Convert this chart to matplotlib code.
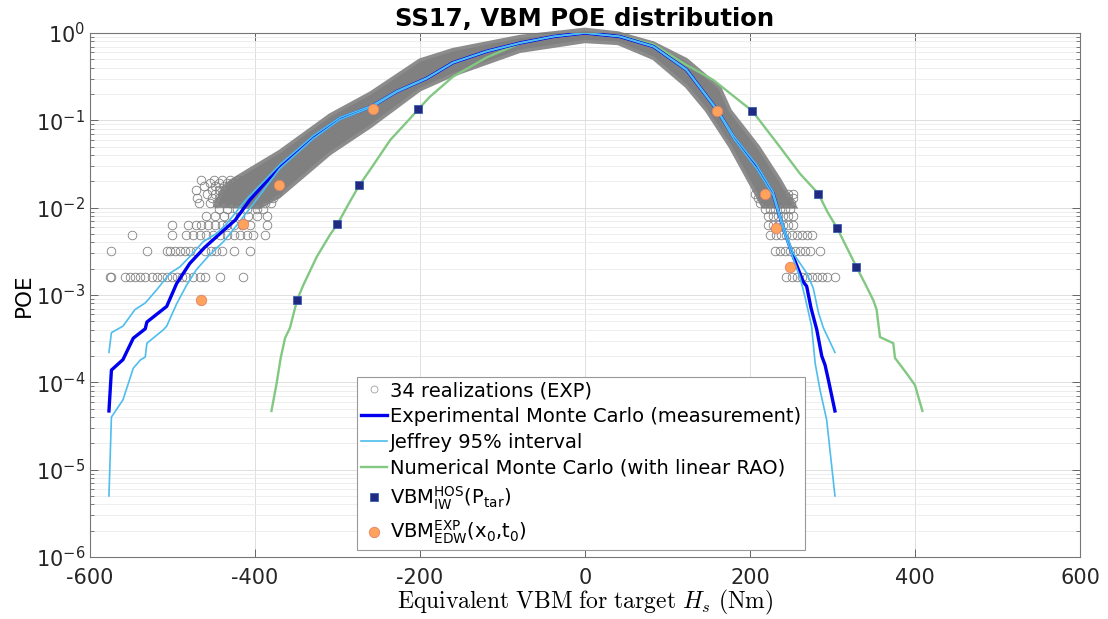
import matplotlib
matplotlib.use('Agg')
import matplotlib.pyplot as plt
from matplotlib.lines import Line2D
from matplotlib.ticker import LogLocator, LogFormatterMathtext, NullFormatter, FixedLocator

plt.rcParams['font.family'] = ['DejaVu Sans']
plt.rcParams['axes.unicode_minus'] = False
plt.rcParams['mathtext.fontset'] = 'dejavusans'

# ---------------- data ----------------
# Experimental Monte Carlo (measurement)
exp_x = [-577, -574, -560, -547.5, -533, -531, -507, -495, -479, -461, -438, -424, -406,
         -370, -329, -297, -258, -228, -192, -160, -119, -79, -38, 0, 42, 83, 123, 160,
         180, 208, 228, 240, 252.5, 264.6, 268.7, 274, 281, 287, 291, 295, 303]
exp_poe = [4.7e-5, 1.38e-4, 1.82e-4, 3.2e-4, 4.1e-4, 4.9e-4, 7.4e-4, 1.35e-3, 2.3e-3, 3.5e-3,
           5.5e-3, 7.2e-3, 0.0123, 0.0295, 0.0646, 0.105, 0.145, 0.214, 0.302, 0.457, 0.617,
           0.767, 0.912, 1.0, 0.912, 0.70, 0.38, 0.132, 0.0646, 0.0295, 0.0145, 0.0060,
           0.00275, 0.00141, 0.00126, 7.1e-4, 4.0e-4, 2.0e-4, 1.58e-4, 1.07e-4, 4.7e-5]

# Jeffrey 95% interval, upper bound
jef_hi_x = [-577, -574, -560, -545.5, -533, -519, -503, -491, -479, -462.6, -446, -434, -410,
            -370, -329, -297, -258, -228, -192, -160, -119, -79, -38, 0, 42, 83, 123, 160,
            180, 208, 228, 240, 252.5, 268.7, 276.7, 283, 289, 303]
jef_hi_poe = [2.2e-4, 3.7e-4, 4.4e-4, 6.8e-4, 8.1e-4, 1.15e-3, 1.78e-3, 2.1e-3, 2.75e-3, 4.1e-3,
              5.1e-3, 6.6e-3, 0.0126, 0.031, 0.067, 0.108, 0.148, 0.217, 0.305, 0.46, 0.62,
              0.77, 0.915, 1.0, 0.915, 0.705, 0.385, 0.135, 0.067, 0.031, 0.0152, 0.0064,
              0.0030, 1.78e-3, 1.2e-3, 6.3e-4, 4.2e-4, 2.2e-4]

# Jeffrey 95% interval, lower bound
jef_lo_x = [-577, -574, -560, -547.5, -539, -533, -531, -511, -507, -495, -483, -471, -457,
            -438, -422, -400, -370, -329, -297, -258, -228, -192, -160, -119, -79, -38, 0,
            42, 83, 123, 160, 180, 208, 228, 240, 252.5, 260.6, 266.7, 274.7, 279, 285,
            293, 303]
jef_lo_poe = [5.0e-6, 4.0e-5, 6.3e-5, 1.45e-4, 1.8e-4, 1.95e-4, 2.8e-4, 4.0e-4, 4.4e-4, 7.9e-4,
              1.29e-3, 1.95e-3, 2.75e-3, 4.1e-3, 6.3e-3, 0.0117, 0.028, 0.062, 0.102, 0.142,
              0.211, 0.299, 0.454, 0.614, 0.764, 0.91, 1.0, 0.91, 0.695, 0.375, 0.129, 0.062,
              0.028, 0.0138, 0.0057, 0.0026, 1.6e-3, 9.5e-4, 4.4e-4, 1.66e-4, 8.1e-5, 3.7e-5,
              5.0e-6]

# Numerical Monte Carlo (with linear RAO)
num_x = [-380, -373.7, -369, -363.6, -357.6, -349, -341.4, -325, -309, -300, -285, -273.6,
         -260.6, -236, -212, -202, -188, -160, -119, -79, -38, 0, 42, 83, 123, 155.5,
         175.8, 202.8, 236, 260.6, 282.8, 294, 305.8, 318, 329, 340, 349.5, 353.5, 357.6,
         373.7, 375.8, 390, 400, 409]
num_poe = [4.7e-5, 9.8e-5, 1.86e-4, 3.2e-4, 4.2e-4, 8.7e-4, 1.3e-3, 2.75e-3, 4.9e-3, 6.5e-3,
           0.0117, 0.018, 0.027, 0.0596, 0.105, 0.134, 0.186, 0.316, 0.525, 0.76, 0.93, 1.0,
           0.93, 0.74, 0.43, 0.29, 0.204, 0.128, 0.050, 0.0245, 0.0145, 0.0089, 0.0058,
           0.0034, 0.0021, 1.32e-3, 8.7e-4, 6.8e-4, 3.3e-4, 2.8e-4, 1.9e-4, 1.26e-4, 9.3e-5,
           4.7e-5]

# VBM_IW^HOS(P_tar)
hos_x = [-349, -300, -273.6, -202, 202.8, 282.8, 305.8, 329]
hos_poe = [8.7e-4, 6.5e-3, 0.018, 0.134, 0.128, 0.0145, 0.0058, 0.0021]

# VBM_EDW^EXP(x0,t0)
edw_x = [-466, -415, -370.5, -257.3, 159.6, 218, 231, 249]
edw_poe = [8.7e-4, 6.5e-3, 0.018, 0.134, 0.129, 0.0144, 0.0058, 0.0021]

# 34 realizations: tail rows (POE level -> x of circles)
tail_levels = [0.0016, 0.0032, 0.0048, 0.0064, 0.0080, 0.0096, 0.0112, 0.0128, 0.0144,
               0.0160, 0.0176, 0.0192, 0.0208]
tail_left_x = [
    [-576, -574, -558, -552, -545, -539, -533, -525, -519, -513, -507, -501, -495, -489,
     -483, -475, -467, -461, -442, -414],
    [-574, -531, -507, -503, -497, -491, -485, -479, -471, -461, -453, -447, -440, -426, -406],
    [-549.5, -501, -483, -475, -467, -459, -451, -442, -434, -426, -418, -410, -402, -388],
    [-501, -481, -471, -465, -457, -449, -440, -434, -426, -416, -406, -386],
    [-459, -449, -438, -428, -418, -408, -398, -386],
    [-444, -434, -422, -410, -398, -390],
    [-468, -455, -446, -438, -430, -422, -414, -405, -396, -388, -380],
    [-470, -452, -444, -436, -428, -420, -412, -404, -396, -388, -378],
    [-458, -448, -440, -432, -424, -416, -408, -400, -392, -384, -374],
    [-472, -452, -444, -436, -428, -420, -412, -404, -396, -386, -372],
    [-462, -448, -438, -430, -422, -414, -406, -398, -390, -380, -368],
    [-455, -444, -434, -426, -418, -410, -402, -394, -384, -372],
    [-466, -450, -440, -430, -420, -412, -404, -396, -388, -376, -366],
]
tail_right_x = [
    [244, 250.5, 256.6, 262.7, 268.7, 274.8, 280.8, 286.9, 293, 303],
    [230, 236, 242, 248.5, 254.5, 260.6, 266.7, 272.7, 284.8],
    [224, 232, 238, 244, 250.5, 256.6, 262.7, 268.7, 274.8],
    [222, 228, 234, 240, 246.5, 252.5],
    [222, 228, 234, 240, 246, 252],
    [218, 224, 230, 236, 242, 248],
    [212, 218, 224, 230, 236, 242, 250],
    [210, 216, 222, 228, 234, 240, 246, 252],
    [206, 214, 222, 230, 238, 246, 252],
    [], [], [], [],
]

# 34 realizations: envelope of the dense part of the cloud
band_left_up_x = [-448, -440, -430, -406, -370, -309, -260, -200, -160, -79, 0]
band_left_up_poe = [0.0105, 0.0158, 0.0200, 0.0275, 0.0440, 0.115, 0.205, 0.49, 0.645, 0.91, 1.10]
band_right_up_x = [40, 83, 123, 163.6, 176, 210, 236, 255]
band_right_up_poe = [1.0, 0.767, 0.495, 0.234, 0.129, 0.050, 0.0209, 0.0102]
band_right_lo_x = [216, 198, 176, 147.5, 123, 83, 40, 0]
band_right_lo_poe = [0.0102, 0.0209, 0.050, 0.129, 0.245, 0.513, 0.76, 0.80]
band_left_lo_x = [-79, -160, -200, -260, -309, -370, -395]
band_left_lo_poe = [0.617, 0.33, 0.224, 0.085, 0.0417, 0.0135, 0.0100]

x_ticks = [-600, -400, -200, 0, 200, 400, 600]

# ---------------- figure ----------------
fig = plt.figure(figsize=(11.08, 6.19), dpi=100)
ax = fig.add_axes([0.0812, 0.1002, 0.8935, 0.8465])
ax.set_yscale('log')

gray = '#808080'
band_x = band_left_up_x + band_right_up_x + band_right_lo_x + band_left_lo_x
band_y = band_left_up_poe + band_right_up_poe + band_right_lo_poe + band_left_lo_poe
band = ax.fill(band_x, band_y, facecolor=gray, edgecolor='#8c8c8c', lw=2.5, zorder=1)
for p in band:
    p.set_clip_on(False)

for lvl, xl, xr in zip(tail_levels, tail_left_x, tail_right_x):
    xs = xl + xr
    ax.plot(xs, [lvl] * len(xs), ls='none', marker='o', ms=6.2, mfc='none',
            mec=gray, mew=0.6, zorder=1.5)

l_num, = ax.plot(num_x, num_poe, color='#82c882', lw=1.7, zorder=2)
l_exp, = ax.plot(exp_x, exp_poe, color='#0000f0', lw=2.4, zorder=3)
l_jef, = ax.plot(jef_hi_x, jef_hi_poe, color='#4dbeee', lw=1.2, zorder=3.5)
ax.plot(jef_lo_x, jef_lo_poe, color='#4dbeee', lw=1.2, zorder=3.5)
l_hos, = ax.plot(hos_x, hos_poe, ls='none', marker='s', ms=5.5, mfc='#1f2a80',
                 mec='#3a5fb0', mew=0.6, zorder=5)
l_edw, = ax.plot(edw_x, edw_poe, ls='none', marker='o', ms=7.5, mfc='#ffa35c',
                 mec='#e0826a', mew=0.6, zorder=5)

ax.set_xlim(-600, 600)
ax.set_ylim(1e-6, 1)
ax.xaxis.set_major_locator(FixedLocator(x_ticks))
ax.yaxis.set_major_locator(LogLocator(base=10, numticks=10))
ax.yaxis.set_minor_locator(LogLocator(base=10, subs=range(2, 10), numticks=10))
ax.yaxis.set_major_formatter(LogFormatterMathtext())
ax.yaxis.set_minor_formatter(NullFormatter())

ax.grid(True, which='major', axis='both', color='#dedede', lw=0.7, zorder=0)
ax.grid(True, which='minor', axis='y', color='#ebebeb', lw=0.6, zorder=0)
ax.set_axisbelow(True)

ax.tick_params(which='both', direction='in', top=True, right=True, colors='#666666',
               labelcolor='#262626', labelsize=15)
ax.tick_params(which='major', length=6, width=0.7)
ax.tick_params(which='minor', length=3, width=0.6)
ax.tick_params(axis='x', pad=8)
for s in ax.spines.values():
    s.set_color('#777777')
    s.set_linewidth(0.8)

ax.set_title('SS17, VBM POE distribution', fontweight='bold', fontsize=17.5, pad=5)
ax.set_ylabel('POE', fontsize=15.5, labelpad=1)
ax.set_xlabel(r'$\mathrm{Equivalent\ VBM\ for\ target\ }H_s\mathrm{\ (Nm)}$',
              fontsize=17, math_fontfamily='cm', labelpad=0)

h_real = Line2D([], [], ls='none', marker='o', ms=5, mfc='none', mec='#a0a0a0', mew=0.6)
handles = [h_real, l_exp, l_jef, l_num, l_hos, l_edw]
labels = ['34 realizations (EXP)',
          'Experimental Monte Carlo (measurement)',
          'Jeffrey 95% interval',
          'Numerical Monte Carlo (with linear RAO)',
          r'VBM$^{\mathrm{HOS}}_{\mathrm{IW}}$(P$_{\mathrm{tar}}$)',
          r'VBM$^{\mathrm{EXP}}_{\mathrm{EDW}}$(x$_0$,t$_0$)']
leg = ax.legend(handles, labels, loc='lower left', bbox_to_anchor=(0.270, 0.0134),
                borderaxespad=0, fancybox=False, edgecolor='#999999', framealpha=1,
                fontsize=14, handlelength=1.35, handletextpad=0.15, labelspacing=0.35,
                borderpad=0.2)
leg.get_frame().set_linewidth(0.8)
leg.set_zorder(10)

fig.savefig('out.png', dpi=100)
